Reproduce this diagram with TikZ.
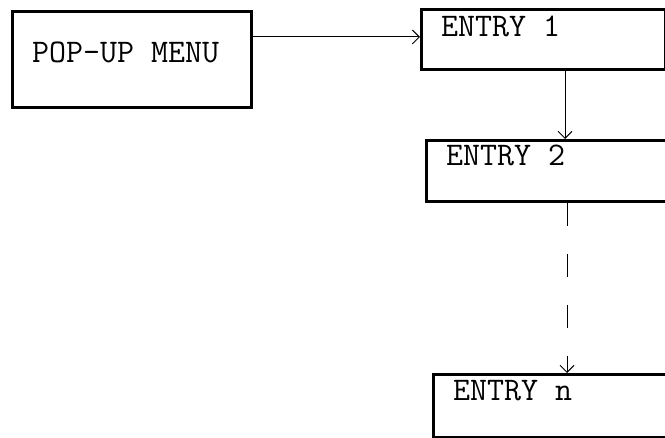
\documentclass[tikz,border=0pt]{standalone}
\usetikzlibrary{arrows.meta}
\begin{document}
\begin{tikzpicture}[x=1pt,y=-1pt,
  box/.style={draw,line width=3pt,rectangle,inner sep=0pt,anchor=north west},
  lbl/.style={font=\fontsize{33}{37}\selectfont\ttfamily,inner sep=0pt,anchor=base west},
  conn/.style={line width=1pt,-{Straight Barb[length=7pt,width=14pt,line width=1pt]}}]
\useasboundingbox (0,0) rectangle (665,438);
\clip (0,0) rectangle (665,438);
\node[box,minimum width=239pt,minimum height=96pt] (popup) at (11,10) {};
\node[box,minimum width=244pt,minimum height=60pt] (e1) at (420,8) {};
\node[box,minimum width=280pt,minimum height=61pt] (e2) at (425,139) {};
\node[box,minimum width=280pt,minimum height=63pt] (en) at (432,373) {};
\node[lbl] (tpop) at (32,63) {POP-UP MENU};
\node[lbl] (t1) at (441,37) {ENTRY 1};
\node[lbl] (t2) at (446,166) {ENTRY 2};
\node[lbl] (tn) at (453,401) {ENTRY n};
\draw[conn] (popup.east |- 0,37) -- (e1.west |- 0,37);
\draw[conn] (e1.south -| 565,0) -- (e2.north -| 565,0);
\draw[conn,dash pattern=on 23pt off 28pt] (e2.south -| 567,0) -- (en.north -| 567,0);
\end{tikzpicture}
\end{document}
